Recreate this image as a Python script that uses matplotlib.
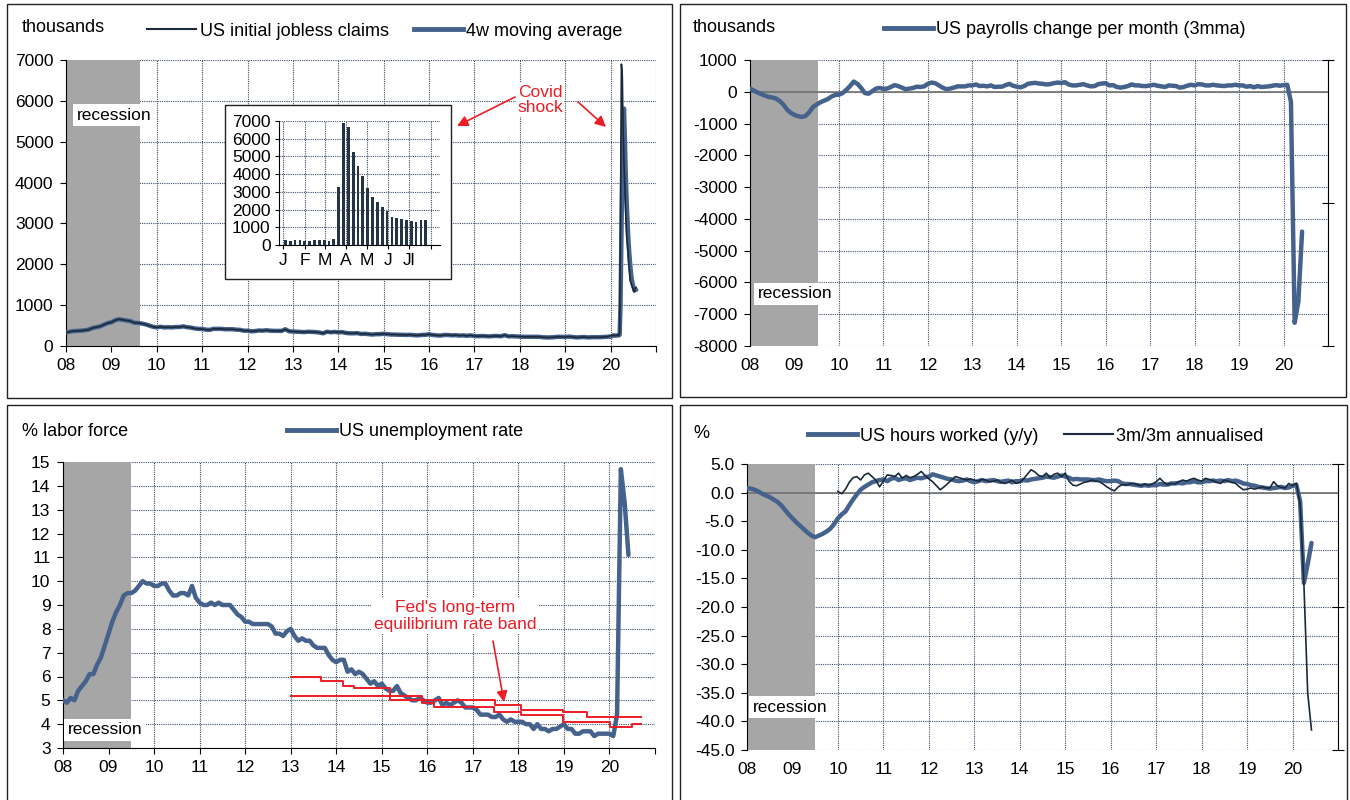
import numpy as np
import pandas as pd
import matplotlib
matplotlib.use('Agg')
import matplotlib.pyplot as plt
from matplotlib.patches import Rectangle
from matplotlib.lines import Line2D

plt.rcParams['font.family'] = ['Liberation Sans', 'DejaVu Sans']
plt.rcParams['font.size'] = 12
plt.rcParams['axes.unicode_minus'] = False

W, H = 1350, 800
BLUE = '#44628c'
DARK = '#1b2a3a'
GREY = '#a6a6a6'
GRID = '#3b4e6b'
RED = '#ee1c25'

# ---- data ----
years = list(range(2008, 2021))
year_labels = ['08', '09', '10', '11', '12', '13', '14', '15', '16', '17', '18', '19', '20']

# initial jobless claims, monthly level 2008-2019 (thousands)
claims_pre = [
    330, 350, 365, 370, 375, 385, 400, 440, 460, 480, 520, 560,
    580, 630, 655, 640, 625, 610, 570, 565, 550, 530, 500, 470,
    455, 470, 455, 460, 455, 465, 465, 480, 460, 450, 430, 420,
    415, 400, 395, 420, 420, 420, 410, 410, 410, 400, 395, 375,
    375, 360, 365, 380, 375, 385, 375, 370, 370, 370, 410, 360,
    355, 350, 345, 340, 350, 345, 340, 330, 310, 350, 335, 345,
    335, 340, 320, 310, 310, 315, 295, 300, 290, 280, 290, 290,
    300, 290, 280, 280, 275, 275, 270, 275, 265, 260, 270, 275,
    285, 270, 260, 255, 270, 270, 260, 265, 255, 260, 250, 260,
    245, 240, 245, 240, 235, 245, 245, 240, 265, 235, 240, 235,
    230, 225, 225, 225, 225, 225, 215, 210, 210, 215, 225, 225,
    220, 230, 220, 210, 215, 220, 210, 215, 215, 215, 220, 225,
]
# weekly claims 2020, weeks ending Jan 4 ... Jul 25
claims_2020 = [260, 250, 270, 260, 250, 250, 260, 270, 260, 250, 330, 3300,
               6900, 6650, 5250, 4450, 3900, 3200, 2700, 2450, 2150, 1900,
               1600, 1550, 1480, 1420, 1330, 1320, 1420, 1430]
week_day_2020 = [3 + 7 * i for i in range(len(claims_2020))]

# payrolls change, 3mma (thousands), Jan 2008 - Jun 2020
payrolls = [
    100, 40, -20, -70, -120, -160, -180, -210, -290, -400, -560, -660,
    -730, -770, -790, -760, -640, -480, -400, -330, -280, -230, -150, -100,
    -90, -40, 60, 180, 320, 250, 120, -40, -60, 20, 100, 120,
    90, 100, 150, 210, 180, 130, 80, 100, 120, 160, 150, 170,
    250, 290, 270, 200, 130, 80, 100, 130, 170, 170, 170, 200,
    200, 230, 180, 190, 170, 200, 150, 160, 160, 210, 250, 190,
    160, 140, 180, 250, 270, 280, 260, 250, 230, 240, 270, 290,
    280, 300, 230, 200, 200, 220, 240, 200, 170, 180, 240, 260,
    270, 200, 210, 150, 130, 150, 180, 230, 200, 200, 180, 180,
    200, 220, 190, 170, 150, 200, 190, 180, 130, 150, 190, 220,
    200, 240, 230, 200, 200, 220, 200, 190, 180, 200, 200, 220,
    200, 200, 160, 180, 140, 180, 150, 160, 170, 190, 210, 190,
    210, 220, -320, -7270, -6600, -4400,
]

# unemployment rate (%), Jan 2008 - Jun 2020
unemp = [
    5.0, 4.9, 5.1, 5.0, 5.4, 5.6, 5.8, 6.1, 6.1, 6.5, 6.8, 7.3,
    7.8, 8.3, 8.7, 9.0, 9.4, 9.5, 9.5, 9.6, 9.8, 10.0, 9.9, 9.9,
    9.8, 9.8, 9.9, 9.9, 9.6, 9.4, 9.4, 9.5, 9.5, 9.4, 9.8, 9.3,
    9.1, 9.0, 9.0, 9.1, 9.0, 9.1, 9.0, 9.0, 9.0, 8.8, 8.6, 8.5,
    8.3, 8.3, 8.2, 8.2, 8.2, 8.2, 8.2, 8.1, 7.8, 7.8, 7.7, 7.9,
    8.0, 7.7, 7.5, 7.6, 7.5, 7.5, 7.3, 7.2, 7.2, 7.2, 6.9, 6.7,
    6.6, 6.7, 6.7, 6.2, 6.3, 6.1, 6.2, 6.1, 5.9, 5.7, 5.8, 5.6,
    5.7, 5.5, 5.4, 5.4, 5.6, 5.3, 5.2, 5.1, 5.0, 5.0, 5.1, 5.0,
    4.9, 4.9, 5.0, 5.1, 4.8, 4.9, 4.8, 4.9, 5.0, 4.9, 4.7, 4.7,
    4.7, 4.6, 4.4, 4.4, 4.4, 4.3, 4.3, 4.4, 4.2, 4.1, 4.2, 4.1,
    4.1, 4.1, 4.0, 4.0, 3.8, 4.0, 3.8, 3.8, 3.7, 3.8, 3.8, 3.9,
    4.0, 3.8, 3.8, 3.6, 3.6, 3.7, 3.7, 3.7, 3.5, 3.6, 3.6, 3.6,
    3.6, 3.5, 4.4, 14.7, 13.3, 11.1,
]
# Fed long-run unemployment band (step dates, upper and lower bounds)
band_hi_x = [2013.0, 2013.66, 2014.14, 2014.40, 2015.18, 2015.89, 2017.49, 2018.05, 2018.98, 2019.50, 2020.69]
band_hi_y = [6.0, 5.8, 5.6, 5.5, 5.2, 5.0, 4.8, 4.6, 4.5, 4.3, 4.3]
band_lo_x = [2013.0, 2015.18, 2015.89, 2016.15, 2017.47, 2018.05, 2018.98, 2020.02, 2020.50, 2020.69]
band_lo_y = [5.2, 5.0, 4.9, 4.7, 4.5, 4.4, 4.1, 3.9, 4.0, 4.0]

# hours worked y/y (%), Jan 2008 - Jun 2020
hours_yy = [
    0.8, 0.7, 0.5, 0.2, -0.2, -0.5, -0.8, -1.2, -1.6, -2.2, -3.0, -3.8,
    -4.5, -5.2, -5.8, -6.4, -7.0, -7.5, -7.8, -7.5, -7.2, -6.8, -6.3, -5.5,
    -4.5, -3.8, -3.3, -2.2, -1.2, -0.3, 0.5, 1.0, 1.4, 1.8, 2.0, 2.2,
    2.3, 2.0, 2.4, 2.6, 2.2, 2.4, 2.5, 2.2, 2.4, 2.6, 2.5, 2.7,
    2.8, 3.2, 3.0, 2.8, 2.6, 2.4, 2.3, 2.1, 2.0, 2.1, 2.3, 2.0,
    1.8, 2.0, 2.2, 2.0, 2.1, 2.2, 2.0, 1.9, 2.0, 2.1, 1.8, 2.0,
    2.0, 2.2, 2.1, 2.3, 2.4, 2.5, 2.6, 2.8, 2.7, 2.6, 2.8, 3.0,
    2.8, 2.6, 2.3, 2.4, 2.3, 2.3, 2.3, 2.2, 2.2, 2.3, 2.1, 2.0,
    2.0, 2.1, 2.0, 1.6, 1.5, 1.5, 1.4, 1.3, 1.2, 1.3, 1.2, 1.3,
    1.3, 1.5, 1.4, 1.4, 1.6, 1.6, 1.7, 1.6, 1.8, 1.8, 2.0, 1.8,
    1.8, 2.0, 2.0, 2.1, 2.0, 2.1, 2.0, 2.2, 2.0, 2.1, 1.9, 1.6,
    1.5, 1.3, 1.2, 1.0, 0.9, 0.8, 0.7, 0.8, 0.9, 1.0, 0.8, 0.9,
    1.2, 1.4, -1.5, -15.8, -12.5, -8.8,
]
# hours worked 3m/3m annualised (%), Jan 2010 - Jun 2020
hours_3m = [
    0.2, -0.2, 0.6, 1.8, 2.6, 2.8, 2.2, 3.1, 3.4, 2.8, 2.2, 1.0,
    2.0, 3.1, 3.0, 2.8, 3.4, 2.5, 3.0, 2.6, 2.8, 3.2, 3.7, 3.0,
    2.4, 1.9, 1.2, 0.5, 1.0, 1.6, 2.2, 2.8, 2.6, 2.4, 2.2, 2.4,
    2.2, 2.0, 2.3, 2.2, 1.9, 2.0, 2.2, 1.8, 1.6, 1.8, 2.2, 1.6,
    1.8, 2.4, 3.2, 4.0, 3.6, 3.0, 2.8, 3.4, 2.6, 3.2, 3.4, 2.8,
    3.4, 2.0, 1.3, 1.2, 1.5, 1.8, 1.9, 2.2, 2.0, 1.9, 1.5, 1.0,
    0.6, 0.3, 1.0, 1.4, 1.3, 1.5, 1.6, 1.4, 1.2, 1.5, 1.3, 1.5,
    1.9, 2.5, 1.8, 1.4, 1.6, 1.5, 1.9, 2.2, 2.0, 2.3, 2.5, 2.2,
    2.0, 2.5, 2.3, 2.1, 1.8, 1.6, 2.2, 2.0, 1.8, 1.6, 1.0, 0.5,
    0.6, 0.8, 0.6, 0.8, 1.0, 0.8, 0.8, 1.9, 1.2, 0.9, 0.8, 1.6,
    1.2, 1.6, -2.0, -16.0, -35.0, -41.5,
]

inset_month_days = [0, 31, 60, 91, 121, 152, 182, 213]
inset_month_labels = ['J', 'F', 'M', 'A', 'M', 'J', 'Jl', '']


def monthly_x(start, n):
    return start + np.arange(n) / 12.0


def box(l, t, r, b):
    return [l / W, 1 - b / H, (r - l) / W, (b - t) / H]


def fxy(x, y):
    return (x / W, 1 - y / H)


def setup(ax, ylo, yhi, step, fmt, zero_axis=False):
    ax.set_xlim(2008, 2021)
    ax.set_ylim(ylo, yhi)
    ax.set_xticks(list(range(2008, 2022)))
    ax.set_xticklabels(year_labels + [''])
    ticks = np.arange(ylo, yhi + step / 2, step)
    ax.set_yticks(ticks)
    ax.set_yticklabels([fmt.format(t) for t in ticks])
    ax.grid(True, color=GRID, linestyle=(0, (1, 1)), linewidth=0.8)
    ax.set_axisbelow(True)
    ax.spines['top'].set_visible(False)
    ax.spines['right'].set_visible(False)
    ax.spines['left'].set_color('black')
    ax.tick_params(axis='y', direction='out', length=4, pad=5, labelsize=12.5)
    ax.tick_params(axis='x', direction='out', length=4, pad=5, labelsize=12.5)
    if zero_axis:
        ax.spines['bottom'].set_visible(False)
        ax.tick_params(axis='x', length=0, pad=9)
        ax.axhline(0, color='#707070', lw=1.2, zorder=2)
        ax2 = ax.twinx()
        ax2.set_ylim(ylo, yhi)
        ax2.set_yticks([yhi, (yhi + ylo) / 2, ylo])
        ax2.tick_params(axis='y', direction='inout', length=9, labelright=False)
        for s in ['top', 'bottom', 'left']:
            ax2.spines[s].set_visible(False)
        ax2.spines['right'].set_color('black')
    else:
        ax.spines['bottom'].set_color('black')


def legend(handles, labels, cx, cy):
    fig.legend(handles, labels, loc='center', bbox_to_anchor=fxy(cx, cy),
               ncol=len(handles), frameon=False, handlelength=2.7,
               handletextpad=0.2, columnspacing=1.4, fontsize=13)


def rec_label(cx, cy):
    fig.text(*fxy(cx, cy), 'recession', ha='center', va='center', fontsize=12.5,
             bbox=dict(fc='white', ec='none', pad=2.5), zorder=4)


fig = plt.figure(figsize=(W / 100, H / 100), dpi=100)

for (l, t, r, b) in [(7, 4, 672, 398), (680, 4, 1346, 397), (7, 405, 672, 812), (680, 405, 1347, 812)]:
    fig.patches.append(Rectangle((l / W, 1 - b / H), (r - l) / W, (b - t) / H,
                                 transform=fig.transFigure, fill=False, ec='#222222', lw=1, zorder=6))

thick = dict(color=BLUE, lw=3.2, solid_joinstyle='round', solid_capstyle='round', zorder=3)
thin = dict(color=DARK, lw=1.2, zorder=4)

# ---- top left: jobless claims ----
ax = fig.add_axes(box(66, 60, 656, 346))
setup(ax, 0, 7000, 1000, '{:.0f}')
ax.axvspan(2008, 2009.62, color=GREY, lw=0, zorder=1)
x_pre = monthly_x(2008, len(claims_pre))
x_2020 = 2020 + np.array(week_day_2020) / 366.0
ma_2020 = pd.Series(claims_pre[-3:] + claims_2020).rolling(4).mean().dropna().values
ax.plot(np.concatenate([x_pre, x_2020]), claims_pre + list(ma_2020), **thick)
ax.plot(np.concatenate([x_pre, x_2020]), claims_pre + claims_2020, **thin)
fig.text(*fxy(22, 28), 'thousands', ha='left', va='center', fontsize=13)
legend([Line2D([], [], color=DARK, lw=1.5), Line2D([], [], color=BLUE, lw=3.5)],
       ['US initial jobless claims', '4w moving average'], 385, 31)
rec_label(114, 115)
fig.text(*fxy(540, 100), 'Covid\nshock', color=RED, ha='center', va='center', fontsize=12.5,
         linespacing=1.05, bbox=dict(fc='white', ec='none', pad=1), zorder=4)
arrow = dict(arrowstyle='-|>', color=RED, lw=1.2, mutation_scale=16, shrinkA=0, shrinkB=0)
ax.annotate('', xy=fxy(457, 126), xytext=fxy(515, 97), xycoords='figure fraction', arrowprops=arrow)
ax.annotate('', xy=fxy(606, 127), xytext=fxy(578, 102), xycoords='figure fraction', arrowprops=arrow)

# inset
fig.patches.append(Rectangle((225 / W, 1 - 279 / H), 226 / W, 174 / H, transform=fig.transFigure,
                             fc='white', ec='#222222', lw=1, zorder=2))
iax = fig.add_axes(box(279, 121, 440, 245))
iax.set_zorder(3)
iax.bar(week_day_2020, claims_2020, width=4.0, color='#243447', zorder=3)
iax.set_xlim(-6.3, 226.6)
iax.set_ylim(0, 7000)
iax.set_yticks(np.arange(0, 7001, 1000))
iax.set_xticks(inset_month_days)
iax.set_xticklabels(inset_month_labels)
iax.grid(True, color=GRID, linestyle=(0, (1, 1)), linewidth=0.8)
iax.set_axisbelow(True)
for s in ['top', 'right']:
    iax.spines[s].set_visible(False)
iax.tick_params(direction='out', length=3, pad=3, labelsize=12.5)

# ---- top right: payrolls ----
ax = fig.add_axes(box(750, 60, 1328, 346))
setup(ax, -8000, 1000, 1000, '{:.0f}', zero_axis=True)
ax.axvspan(2008, 2009.52, color=GREY, lw=0, zorder=1)
ax.plot(monthly_x(2008, len(payrolls)), payrolls, **thick)
fig.text(*fxy(693, 28), 'thousands', ha='left', va='center', fontsize=13)
legend([Line2D([], [], color=BLUE, lw=3.5)], ['US payrolls change per month (3mma)'], 1065, 30)
rec_label(795, 294)

# ---- bottom left: unemployment ----
ax = fig.add_axes(box(63, 462, 655, 748))
setup(ax, 3, 15, 1, '{:.0f}')
ax.axvspan(2008, 2009.5, color=GREY, lw=0, zorder=1)
ax.plot(monthly_x(2008, len(unemp)), unemp, **thick)
ax.plot(band_hi_x, band_hi_y, drawstyle='steps-post', color=RED, lw=1.4, zorder=4)
ax.plot(band_lo_x, band_lo_y, drawstyle='steps-post', color=RED, lw=1.4, zorder=4)
fig.text(*fxy(22, 432), '% labor force', ha='left', va='center', fontsize=13)
legend([Line2D([], [], color=BLUE, lw=3.5)], ['US unemployment rate'], 405, 432)
rec_label(105, 730)
fig.text(*fxy(455, 616), "Fed's long-term\nequilibrium rate band", color=RED, ha='center',
         va='center', fontsize=12.5, linespacing=1.1, bbox=dict(fc='white', ec='none', pad=2), zorder=4)
ax.annotate('', xy=fxy(504, 702), xytext=fxy(493, 641), xycoords='figure fraction', arrowprops=arrow)

# ---- bottom right: hours worked ----
ax = fig.add_axes(box(747, 464, 1338, 750))
setup(ax, -45, 5, 5, '{:.1f}', zero_axis=True)
ax.axvspan(2008, 2009.5, color=GREY, lw=0, zorder=1)
ax.plot(monthly_x(2008, len(hours_yy)), hours_yy, **thick)
ax.plot(monthly_x(2010, len(hours_3m)), hours_3m, **thin)
fig.text(*fxy(693, 433), '%', ha='left', va='center', fontsize=13)
legend([Line2D([], [], color=BLUE, lw=3.5), Line2D([], [], color=DARK, lw=1.5)],
       ['US hours worked (y/y)', '3m/3m annualised'], 1036, 436)
rec_label(790, 707)

fig.savefig('out.png', dpi=100)
